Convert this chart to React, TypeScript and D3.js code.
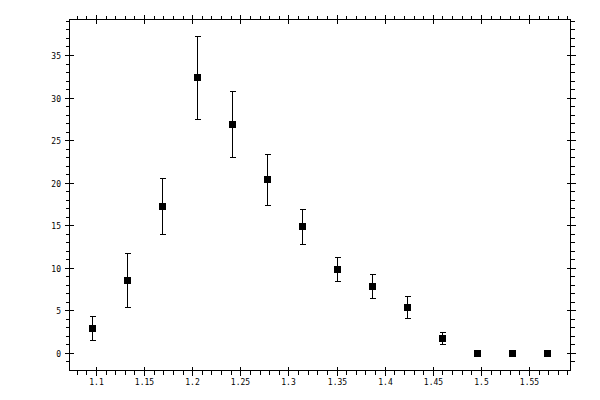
import * as d3 from 'd3';

// bin centres and measured values with symmetric errors
const xVals = [1.0958, 1.1322, 1.1685, 1.2049, 1.2413, 1.2776, 1.314, 1.3504, 1.3867, 1.4231, 1.4595, 1.4958, 1.5322, 1.5686];
const yVals = [2.93, 8.56, 17.28, 32.4, 26.9, 20.4, 14.9, 9.86, 7.86, 5.4, 1.76, 0, 0, 0];
const yErr = [1.45, 3.15, 3.26, 4.87, 3.92, 3.0, 2.05, 1.46, 1.46, 1.24, 0.65, 0, 0, 0];

const xMajor = [1.1, 1.15, 1.2, 1.25, 1.3, 1.35, 1.4, 1.45, 1.5, 1.55];
const xLabels = ['1.1', '1.15', '1.2', '1.25', '1.3', '1.35', '1.4', '1.45', '1.5', '1.55'];
const yMajor = [0, 5, 10, 15, 20, 25, 30, 35];

const W = 600;
const H = 400;
const FONT = '"DejaVu Sans Mono", monospace';

export default function App() {
  const x = d3.scaleLinear().domain([1.07194, 1.59261]).range([69.5, 570.5]);
  const y = d3.scaleLinear().domain([-2, 39.23]).range([370.5, 19.5]);
  const px = (v: number) => Math.floor(x(v)) + 0.5;
  const py = (v: number) => Math.floor(y(v)) + 0.5;

  const xMinor = d3.range(108, 160).map(d => d / 100).filter(d => !xMajor.some(m => Math.abs(m - d) < 1e-6));
  const yMinor = d3.range(-1, 40).filter(d => d % 5 !== 0);

  const [x0, x1] = x.range();
  const [y0, y1] = y.range();

  return (
    <div style={{ position: 'fixed', left: 0, top: 0 }}>
      <svg width={W} height={H} style={{ display: 'block', background: '#fff' }} shapeRendering="crispEdges">
        <rect x={x0} y={y1} width={x1 - x0} height={y0 - y1} fill="none" stroke="#000" strokeWidth={1} />
        <g stroke="#000" strokeWidth={1}>
          {xMinor.map((d, i) => (
            <g key={'xm' + i}>
              <line x1={px(d)} x2={px(d)} y1={y0} y2={y0 + 4} />
              <line x1={px(d)} x2={px(d)} y1={y1} y2={y1 - 4} />
            </g>
          ))}
          {xMajor.map((d, i) => (
            <g key={'xM' + i}>
              <line x1={px(d)} x2={px(d)} y1={y0 - 4} y2={y0 + 5} />
              <line x1={px(d)} x2={px(d)} y1={y1 + 4} y2={y1 - 5} />
            </g>
          ))}
          {yMinor.map((d, i) => (
            <g key={'ym' + i}>
              <line x1={x0} x2={x0 - 4} y1={py(d)} y2={py(d)} />
              <line x1={x1} x2={x1 + 4} y1={py(d)} y2={py(d)} />
            </g>
          ))}
          {yMajor.map((d, i) => (
            <g key={'yM' + i}>
              <line x1={x0 - 5} x2={x0 + 4} y1={py(d)} y2={py(d)} />
              <line x1={x1 + 5} x2={x1 - 4} y1={py(d)} y2={py(d)} />
            </g>
          ))}
        </g>
        <g fontFamily={FONT} fontSize={8} fill="#000">
          {xMajor.map((d, i) => (
            <text key={'xl' + i} x={px(d)} y={385} textAnchor="middle">{xLabels[i]}</text>
          ))}
          {yMajor.map((d, i) => (
            <text key={'yl' + i} x={61} y={py(d) + 3} textAnchor="end">{d}</text>
          ))}
        </g>
        <g stroke="#000" strokeWidth={1}>
          {xVals.map((xv, i) =>
            yErr[i] > 0 ? (
              <g key={'e' + i}>
                <line x1={px(xv)} x2={px(xv)} y1={py(yVals[i] + yErr[i])} y2={py(yVals[i] - yErr[i])} />
                <line x1={px(xv) - 3} x2={px(xv) + 3} y1={py(yVals[i] + yErr[i])} y2={py(yVals[i] + yErr[i])} />
                <line x1={px(xv) - 3} x2={px(xv) + 3} y1={py(yVals[i] - yErr[i])} y2={py(yVals[i] - yErr[i])} />
              </g>
            ) : null
          )}
        </g>
        <g fill="#000">
          {xVals.map((xv, i) => (
            <rect key={'p' + i} x={px(xv) - 3.5} y={py(yVals[i]) - 3.5} width={7} height={7} />
          ))}
        </g>
      </svg>
    </div>
  );
}
